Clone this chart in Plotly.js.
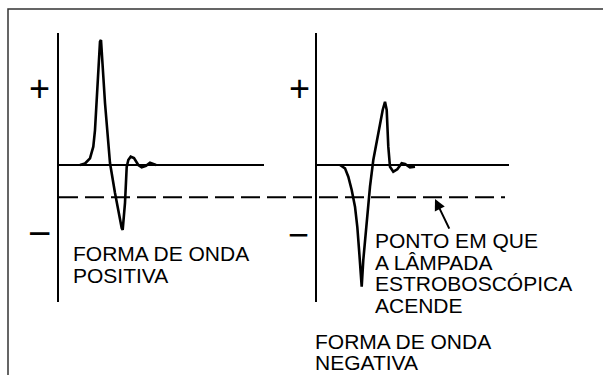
<!DOCTYPE html>
<html><head><meta charset="utf-8">
<script src="https://cdn.plot.ly/plotly-3.0.1.min.js"></script>
<style>html,body{margin:0;padding:0;background:#fff}#chart{width:603px;height:375px}</style>
</head><body><div id="chart"></div>
<script>
// Positive waveform (time in arbitrary units, amplitude in arbitrary units)
const posTime = [2.1, 2.6, 3.1, 3.43, 3.6, 3.77, 3.93, 4.1, 4.2, 4.27, 4.6, 5.1, 5.6, 6.27, 6.37, 6.6, 6.77, 6.93, 7.17, 7.5, 7.93, 8.27, 8.7, 9.1, 9.43, 9.7];
const posAmp  = [0, 0.12, 0.54, 1.48, 2.82, 5.0, 7.66, 9.94, 10.08, 9.03, 5.0, 0.16, -2.26, -5.08, -5.24, -3.06, -0.16, 0.4, 0.67, 0.56, 0, -0.19, -0.06, 0.19, 0.08, 0];
// Negative waveform
const negTime = [2.3, 2.8, 3.13, 3.47, 3.8, 4.03, 4.23, 4.37, 4.47, 4.63, 4.97, 5.3, 5.63, 6.13, 6.57, 6.8, 6.97, 7.13, 7.3, 7.63, 8.03, 8.47, 8.8, 9.3, 9.8];
const negAmp  = [0, -0.27, -0.94, -2.02, -3.36, -4.98, -7.1, -9.27, -9.81, -7.66, -4.44, -1.75, 0.4, 2.58, 4.44, 5.1, 4.44, 1.48, -0.14, -0.54, -0.35, 0.14, 0.08, -0.19, -0.14];
// Strobe trigger level
const triggerLevel = -2.6;
// Arrow target on trigger line (negative panel time)
const arrowTime = 11.8;
// Labels
const posLabel = ['FORMA DE ONDA', 'POSITIVA'];
const negLabel = ['FORMA DE ONDA', 'NEGATIVA'];
const flashLabel = ['PONTO EM QUE', 'A LÂMPADA', 'ESTROBOSCÓPICA', 'ACENDE'];
const plusSign = '+';
const minusSign = '\u2212';

const W = 603, H = 375;
const px = v => v / W;
const py = v => 1 - v / H;
const FONT = 'Liberation Sans, Arial, sans-serif';

const traces = [
  {x: posTime, y: posAmp, xaxis: 'x', yaxis: 'y', mode: 'lines', line: {color: '#000', width: 2.6}, hoverinfo: 'skip'},
  {x: negTime, y: negAmp, xaxis: 'x2', yaxis: 'y2', mode: 'lines', line: {color: '#000', width: 2.6}, hoverinfo: 'skip'}
];

const yRange = [-11.048, 10.645];
const yDomain = [py(302), py(33)];
const axCommonX = {showgrid: false, zeroline: false, showticklabels: false, ticks: '', showline: false, fixedrange: true};
const axCommonY = {range: yRange, domain: yDomain, showgrid: false, zeroline: true, zerolinecolor: '#000', zerolinewidth: 2,
  showline: true, linecolor: '#000', linewidth: 2, showticklabels: false, ticks: '', fixedrange: true};

const annotations = [];
function textLine(t, x, y, size) {
  annotations.push({text: t, xref: 'paper', yref: 'paper', x: px(x), y: py(y), xanchor: 'left', yanchor: 'middle',
    showarrow: false, font: {family: FONT, size: size || 21, color: '#000'}});
}
function sign(t, x, y, size) {
  annotations.push({text: t, xref: 'paper', yref: 'paper', x: px(x), y: py(y), xanchor: 'center', yanchor: 'middle',
    showarrow: false, font: {family: FONT, size: size, color: '#000'}});
}
posLabel.forEach((t, i) => textLine(t, 71, 253 + i * 22));
flashLabel.forEach((t, i) => textLine(t, 373, 240.5 + i * 21.7));
negLabel.forEach((t, i) => textLine(t, 313, 341 + i * 21.5));
sign(plusSign, 39.3, 88.3, 36);
sign(plusSign, 299, 88, 36);
sign(minusSign, 39, 233.3, 40);
sign(minusSign, 298.5, 234, 36);
annotations.push({text: '', xref: 'x2', yref: 'y2', x: arrowTime, y: triggerLevel - 0.15, ax: 15, ay: 31,
  showarrow: true, arrowhead: 2, arrowsize: 1.1, arrowwidth: 2, arrowcolor: '#000'});

const layout = {
  width: W, height: H, margin: {l: 0, r: 0, t: 0, b: 0},
  paper_bgcolor: '#fff', plot_bgcolor: 'rgba(0,0,0,0)', showlegend: false,
  xaxis: Object.assign({}, axCommonX, {domain: [px(59), px(264)], range: [0, 20.5], anchor: 'y'}),
  yaxis: Object.assign({}, axCommonY, {anchor: 'x'}),
  xaxis2: Object.assign({}, axCommonX, {domain: [px(317), px(509)], range: [0, 19.2], anchor: 'y2'}),
  yaxis2: Object.assign({}, axCommonY, {anchor: 'x2'}),
  shapes: [
    {type: 'line', xref: 'paper', yref: 'y', x0: px(59), x1: px(505), y0: triggerLevel, y1: triggerLevel,
      line: {color: '#000', width: 2.2, dash: '19px,7px'}},
    {type: 'rect', xref: 'paper', yref: 'paper', x0: px(8), x1: 1.05, y0: -0.05, y1: py(9),
      line: {color: '#333', width: 1.5}, fillcolor: 'rgba(0,0,0,0)'}
  ],
  annotations: annotations
};

Plotly.newPlot('chart', traces, layout, {displayModeBar: false, staticPlot: true});
</script>
</body></html>
